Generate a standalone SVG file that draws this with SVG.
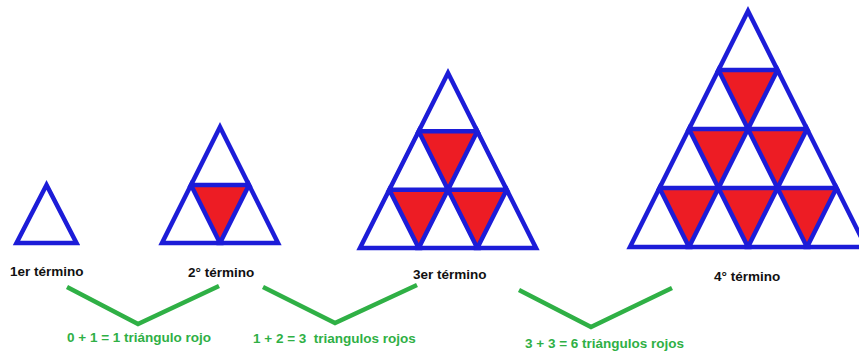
<svg xmlns="http://www.w3.org/2000/svg" width="859" height="351" viewBox="0 0 859 351">
<style>
.bg{fill:#ffffff}
.up{fill:none;stroke:#1c1cd8;stroke-width:4.5;stroke-linejoin:miter}
.red{fill:#ed1c24;stroke:none}
.lbl{font-family:"Liberation Sans",Arial,sans-serif;font-weight:bold;font-size:13.5px;fill:#111111}
.eq{font-family:"Liberation Sans",Arial,sans-serif;font-weight:bold;font-size:13.5px;fill:#2fb045}
.v{fill:none;stroke:#2fb045;stroke-width:4.5;stroke-linejoin:miter}
</style>
<rect class="bg" x="0" y="0" width="859" height="351"/>
<g id="term1">
<polygon class="up" points="46.5,185 16.5,243 76.5,243"/>
<text class="lbl" x="10" y="276">1er término</text>
</g>
<g id="term2">
<polygon class="red" points="191,185 249,185 220,243"/>
<polygon class="up" points="220,127 191,185 249,185"/>
<polygon class="up" points="191,185 162,243 220,243"/>
<polygon class="up" points="249,185 220,243 278,243"/>
<text class="lbl" x="188" y="277">2° término</text>
</g>
<g id="term3">
<polygon class="red" points="418.7,131.3 477.3,131.3 448,189.7"/>
<polygon class="red" points="389.3,189.7 448,189.7 418.7,248"/>
<polygon class="red" points="448,189.7 506.7,189.7 477.3,248"/>
<polygon class="up" points="448,73 418.7,131.3 477.3,131.3"/>
<polygon class="up" points="418.7,131.3 389.3,189.7 448,189.7"/>
<polygon class="up" points="477.3,131.3 448,189.7 506.7,189.7"/>
<polygon class="up" points="389.3,189.7 360,248 418.7,248"/>
<polygon class="up" points="448,189.7 418.7,248 477.3,248"/>
<polygon class="up" points="506.7,189.7 477.3,248 536,248"/>
<text class="lbl" x="413" y="279">3er término</text>
</g>
<g id="term4">
<polygon class="red" points="718.5,70 777.5,70 748,129"/>
<polygon class="red" points="689,129 748,129 718.5,188"/>
<polygon class="red" points="748,129 807,129 777.5,188"/>
<polygon class="red" points="659.5,188 718.5,188 689,247"/>
<polygon class="red" points="718.5,188 777.5,188 748,247"/>
<polygon class="red" points="777.5,188 836.5,188 807,247"/>
<polygon class="up" points="748,11 718.5,70 777.5,70"/>
<polygon class="up" points="718.5,70 689,129 748,129"/>
<polygon class="up" points="777.5,70 748,129 807,129"/>
<polygon class="up" points="689,129 659.5,188 718.5,188"/>
<polygon class="up" points="748,129 718.5,188 777.5,188"/>
<polygon class="up" points="807,129 777.5,188 836.5,188"/>
<polygon class="up" points="659.5,188 630,247 689,247"/>
<polygon class="up" points="718.5,188 689,247 748,247"/>
<polygon class="up" points="777.5,188 748,247 807,247"/>
<polygon class="up" points="836.5,188 807,247 866,247"/>
<text class="lbl" x="714" y="281">4° término</text>
</g>
<g id="connectors">
<polyline class="v" points="67,287 138,324 219,286"/>
<polyline class="v" points="263,287 335,323 417,285"/>
<polyline class="v" points="519,290 591,327 672,288"/>
</g>
<g id="equations">
<text class="eq" x="67" y="342">0 + 1 = 1 triángulo rojo</text>
<text class="eq" x="253" y="343" xml:space="preserve">1 + 2 = 3  triangulos rojos</text>
<text class="eq" x="525" y="348">3 + 3 = 6 triángulos rojos</text>
</g>
</svg>
